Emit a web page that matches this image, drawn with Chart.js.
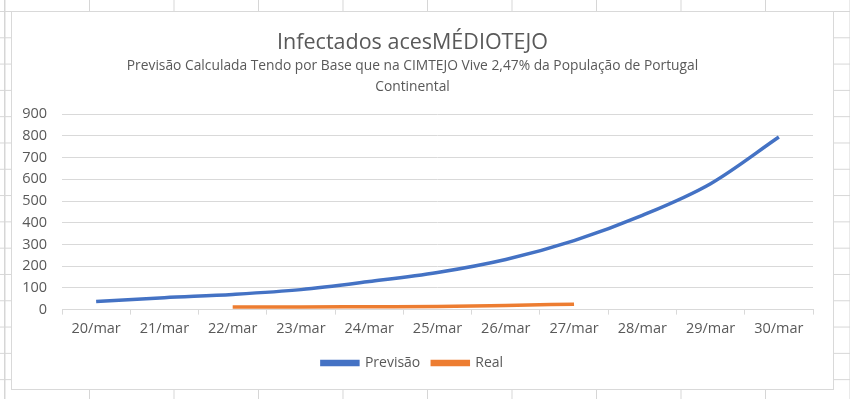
<!DOCTYPE html>
<html>
<head>
<meta charset="utf-8">
<script src="https://cdn.jsdelivr.net/npm/chart.js@4/dist/chart.umd.min.js"></script>
<style>
  html, body { margin: 0; padding: 0; }
  body {
    width: 850px; height: 399px; overflow: hidden; position: relative;
    background-color: #fff;
    background-image:
      linear-gradient(to right, #d6d6d6 1px, transparent 1px),
      linear-gradient(to bottom, #d6d6d6 1px, transparent 1px);
    background-size: 84.5px 100%, 100% 26.3px;
    background-position: 89px 0, 0 11px;
  }
  #leftline { position: absolute; left: 4px; top: 0; width: 1px; height: 399px; background: #d6d6d6; }
  #box {
    position: absolute; left: 11px; top: 11px; width: 821px; height: 377px;
    background: #fff; border: 1px solid #d9d9d9;
  }
</style>
</head>
<body>
<div id="leftline"></div>
<div id="box"><canvas id="myChart" width="821" height="377"></canvas></div>
<script>
const categories = ["20/mar", "21/mar", "22/mar", "23/mar", "24/mar", "25/mar", "26/mar", "27/mar", "28/mar", "29/mar", "30/mar"];
const previsao = [37, 55, 70, 92, 129, 171, 231, 318, 434, 580, 795];
const real = [null, null, 12, 12, 13, 14, 19, 25, null, null, null];
const yTicks = [0, 100, 200, 300, 400, 500, 600, 700, 800, 900];

const grey = "#595959";
Chart.defaults.font.family = "'Open Sans', 'Noto Sans', sans-serif";
Chart.defaults.color = grey;

const ctx = document.getElementById("myChart");
new Chart(ctx, {
  type: "line",
  data: {
    labels: categories,
    datasets: [{
      label: "Previsão",
      data: previsao,
      borderColor: "#4472C4",
      backgroundColor: "#4472C4",
      borderWidth: 3.5,
      pointRadius: 0,
      cubicInterpolationMode: "monotone",
    }, {
      label: "Real",
      data: real,
      borderColor: "#ED7D31",
      backgroundColor: "#ED7D31",
      borderWidth: 3.5,
      pointRadius: 0,
      cubicInterpolationMode: "monotone",
    }]
  },
  options: {
    responsive: false,
    animation: false,
    layout: { autoPadding: false, padding: { left: 0, right: 20, top: 0, bottom: 9 } },
    scales: {
      x: {
        offset: true,
        grid: { drawOnChartArea: false, color: "#d9d9d9", tickLength: 5, offset: true },
        border: { color: "#d9d9d9" },
        ticks: { color: grey, font: { size: 14.5 }, padding: 6, maxRotation: 0 },
      },
      y: {
        min: 0,
        max: 900,
        afterBuildTicks: function (axis) {
          axis.ticks = yTicks.map(function (v) { return { value: v }; });
        },
        afterFit: function (scale) {
          scale.width = 50;
        },
        grid: { color: "#d9d9d9", drawTicks: false, tickLength: 0 },
        border: { display: false },
        ticks: { color: grey, font: { size: 14.5 }, padding: 15 },
      },
    },
    plugins: {
      title: {
        display: true,
        text: "Infectados acesMÉDIOTEJO",
        color: grey,
        font: { size: 21.5, weight: "normal" },
        padding: { top: 18, bottom: 0 },
      },
      subtitle: {
        display: true,
        text: ["Previsão Calculada Tendo por Base que na CIMTEJO Vive 2,47% da População de Portugal", "Continental"],
        color: grey,
        font: { size: 13.8, lineHeight: 1.5 },
        padding: { top: 0, bottom: 17 },
      },
      legend: {
        position: "bottom",
        labels: {
          boxWidth: 36,
          boxHeight: 3,
          padding: 12,
          color: grey,
          font: { size: 14 },
        },
      },
      tooltip: { enabled: false },
    },
  },
});
</script>
</body>
</html>
